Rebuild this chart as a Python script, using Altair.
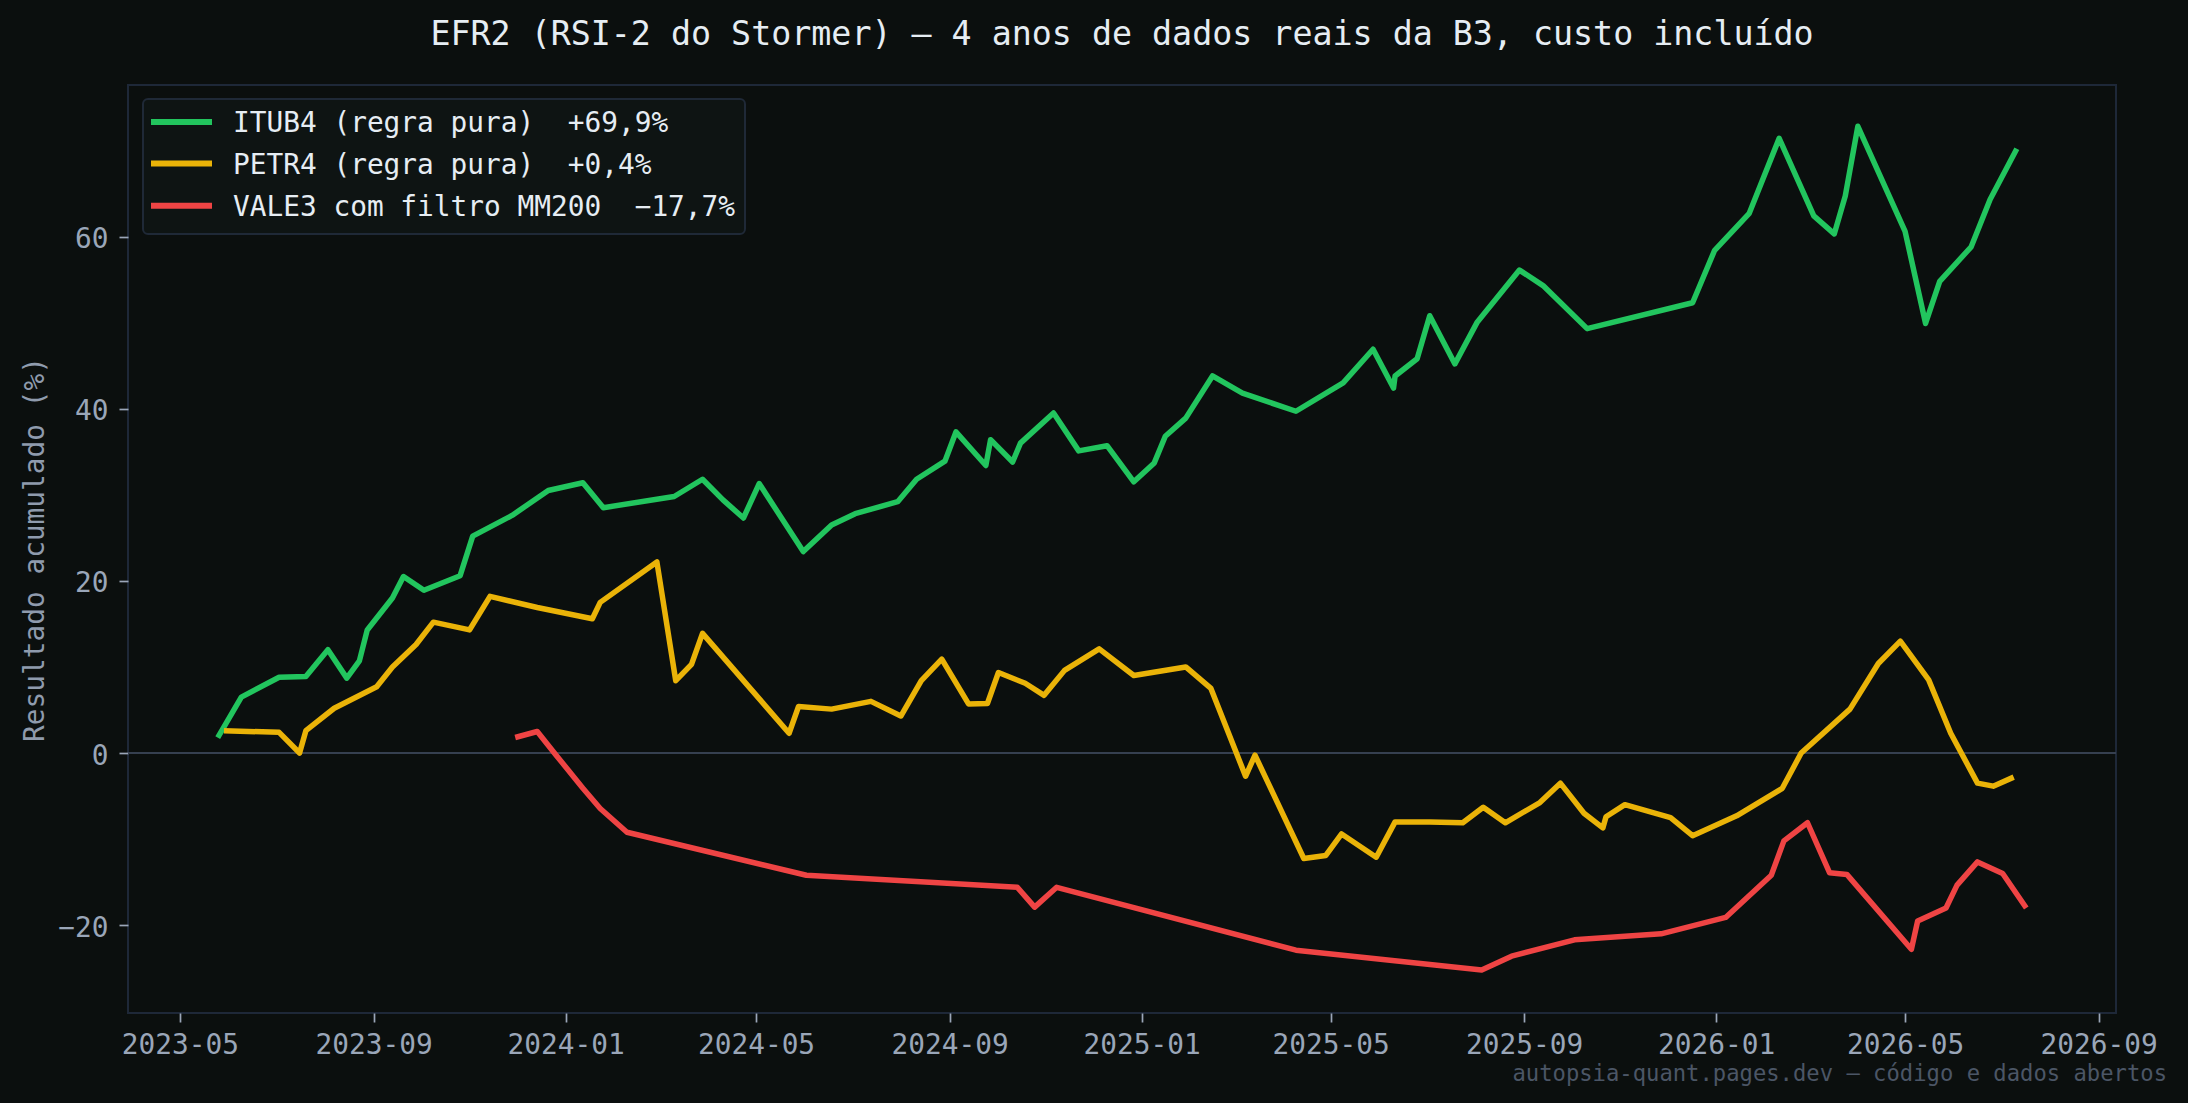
import altair as alt
import pandas as pd

# ---------------- text ----------------
TITLE = "EFR2 (RSI-2 do Stormer) \u2014 4 anos de dados reais da B3, custo inclu\u00eddo"
FOOTER = "autopsia-quant.pages.dev \u2014 c\u00f3digo e dados abertos"
Y_TITLE = "Resultado acumulado (%)"

series_labels = [
    "ITUB4 (regra pura) \u00a0+69,9%",
    "PETR4 (regra pura) \u00a0+0,4%",
    "VALE3 com filtro MM200 \u00a0\u221217,7%",
]
series_colors = ["#22c55e", "#eab308", "#ef4444"]

# ---------------- data ----------------
itub_dates = [
    "2023-05-25", "2023-06-09", "2023-07-03", "2023-07-20", "2023-08-03", "2023-08-15",
    "2023-08-23", "2023-08-28", "2023-09-13", "2023-09-20", "2023-10-03", "2023-10-26",
    "2023-11-03", "2023-11-28", "2023-12-21", "2024-01-12", "2024-01-25", "2024-03-10",
    "2024-03-28", "2024-04-10", "2024-04-23", "2024-05-03", "2024-05-31", "2024-06-18",
    "2024-07-03", "2024-07-30", "2024-08-11", "2024-08-29", "2024-09-05", "2024-09-24",
    "2024-09-27", "2024-10-11", "2024-10-16", "2024-11-06", "2024-11-22", "2024-12-10",
    "2024-12-27", "2025-01-09", "2025-01-16", "2025-01-29", "2025-02-15", "2025-03-06",
    "2025-04-09", "2025-05-09", "2025-05-28", "2025-06-10", "2025-06-11", "2025-06-25",
    "2025-07-03", "2025-07-19", "2025-08-02", "2025-08-29", "2025-09-13", "2025-10-11",
    "2025-12-17", "2025-12-31", "2026-01-22", "2026-02-10", "2026-03-04", "2026-03-17",
    "2026-03-24", "2026-04-01", "2026-05-01", "2026-05-14", "2026-05-23", "2026-06-12",
    "2026-06-24", "2026-07-11",
]
itub_values = [
    1.8, 6.5, 8.8, 8.9, 12.0, 8.7,
    10.7, 14.3, 18.0, 20.5, 18.9, 20.6,
    25.2, 27.6, 30.5, 31.4, 28.5, 29.8,
    31.8, 29.4, 27.3, 31.3, 23.4, 26.5,
    27.8, 29.2, 31.8, 33.9, 37.3, 33.4,
    36.4, 33.8, 36.0, 39.5, 35.1, 35.7,
    31.5, 33.7, 36.8, 38.9, 43.8, 41.8,
    39.7, 43.0, 46.9, 42.4, 43.8, 45.8,
    50.8, 45.2, 50.0, 56.1, 54.3, 49.3,
    52.3, 58.4, 62.7, 71.4, 62.4, 60.3,
    64.7, 72.8, 60.6, 49.9, 54.8, 58.8,
    64.3, 70.2,
]

petr_dates = [
    "2023-05-29", "2023-07-03", "2023-07-16", "2023-07-20", "2023-08-07", "2023-09-03",
    "2023-09-13", "2023-09-28", "2023-10-09", "2023-11-01", "2023-11-14", "2023-12-14",
    "2024-01-18", "2024-01-23", "2024-02-28", "2024-03-11", "2024-03-21", "2024-03-28",
    "2024-05-22", "2024-05-28", "2024-06-18", "2024-07-13", "2024-08-01", "2024-08-14",
    "2024-08-27", "2024-09-13", "2024-09-25", "2024-10-02", "2024-10-19", "2024-10-31",
    "2024-11-13", "2024-12-05", "2024-12-27", "2025-01-29", "2025-02-14", "2025-03-08",
    "2025-03-14", "2025-04-14", "2025-04-28", "2025-05-08", "2025-05-30", "2025-06-11",
    "2025-07-03", "2025-07-24", "2025-08-06", "2025-08-20", "2025-09-11", "2025-09-24",
    "2025-10-09", "2025-10-21", "2025-10-23", "2025-11-04", "2025-12-03", "2025-12-17",
    "2026-01-14", "2026-02-12", "2026-02-24", "2026-03-27", "2026-04-14", "2026-04-28",
    "2026-05-16", "2026-05-30", "2026-06-16", "2026-06-26", "2026-07-09",
]
petr_values = [
    2.6, 2.4, 0.0, 2.6, 5.2, 7.7,
    10.0, 12.6, 15.2, 14.3, 18.2, 16.9,
    15.6, 17.5, 22.2, 8.4, 10.3, 13.9,
    2.3, 5.4, 5.1, 6.0, 4.3, 8.4,
    10.9, 5.7, 5.75, 9.35, 8.1, 6.7,
    9.6, 12.1, 9.0, 10.0, 7.5, -2.7,
    -0.25, -12.25, -11.9, -9.4, -12.1, -8.0,
    -8.0, -8.1, -6.3, -8.1, -5.75, -3.5,
    -7.0, -8.7, -7.4, -6.0, -7.5, -9.6,
    -7.3, -4.1, 0.0, 5.1, 10.4, 13.0,
    8.5, 2.3, -3.5, -3.85, -2.8,
]

vale_dates = [
    "2023-11-30", "2023-12-14", "2023-12-26", "2024-01-12", "2024-01-23", "2024-02-09",
    "2024-06-02", "2024-10-14", "2024-10-25", "2024-11-08", "2025-04-09", "2025-08-05",
    "2025-08-24", "2025-10-03", "2025-11-27", "2026-01-07", "2026-02-05", "2026-02-13",
    "2026-02-28", "2026-03-14", "2026-03-25", "2026-05-05", "2026-05-09", "2026-05-27",
    "2026-06-03", "2026-06-16", "2026-07-02", "2026-07-17",
]
vale_values = [
    1.8, 2.5, -0.25, -4.1, -6.45, -9.2,
    -14.2, -15.6, -17.9, -15.6, -22.9, -25.2,
    -23.6, -21.7, -21.0, -19.1, -14.2, -10.2,
    -8.1, -13.9, -14.1, -22.8, -19.5, -18.0,
    -15.35, -12.65, -14.0, -18.0,
]

x_tick_dates = [
    "2023-05-01", "2023-09-01", "2024-01-01", "2024-05-01", "2024-09-01", "2025-01-01",
    "2025-05-01", "2025-09-01", "2026-01-01", "2026-05-01", "2026-09-01",
]
x_domain = ["2023-03-29", "2026-09-12"]
y_ticks = [-20, 0, 20, 40, 60]
y_domain = [-30.2, 77.6]

# ---------------- build table ----------------
rows = []
for lab, ds, vs in zip(series_labels, [itub_dates, petr_dates, vale_dates],
                       [itub_values, petr_values, vale_values]):
    for d, v in zip(ds, vs):
        rows.append({"date": d, "value": v, "serie": lab})
df = pd.DataFrame(rows)


def dt(s):
    y, m, d = (int(p) for p in s.split("-"))
    return alt.DateTime(year=y, month=m, date=d, utc=True)


MONO = "DejaVu Sans Mono"
BG = "#0b0f0e"
W, H = 1988, 928
LW = 5.5

x_enc = alt.X(
    "date:T",
    scale=alt.Scale(type="utc", domain=[dt(x_domain[0]), dt(x_domain[1])]),
    axis=alt.Axis(
        values=[dt(s) for s in x_tick_dates],
        labelExpr="utcFormat(datum.value, '%Y-%m')",
        title=None, labelFlush=False, labelOverlap=False, labelPadding=9,
    ),
)
y_scale = alt.Scale(domain=y_domain, nice=False, zero=False)
y_axis = alt.Axis(
    values=y_ticks, format="d", title=Y_TITLE, labelPadding=11, labelOffset=3,
    titleX=-93, titleY=H / 2, titleAngle=270, titleAlign="center",
    titleBaseline="middle",
)

zero = alt.Chart(pd.DataFrame({"z": [0]})).mark_rule(
    color="#364050", strokeWidth=2
).encode(y=alt.Y("z:Q", scale=y_scale, axis=y_axis))

lines = alt.Chart(df).mark_line(strokeWidth=LW, strokeJoin="round").encode(
    x=x_enc,
    y=alt.Y("value:Q", scale=y_scale, axis=y_axis),
    color=alt.Color("serie:N", scale=alt.Scale(domain=series_labels, range=series_colors),
                    legend=None),
)

one = pd.DataFrame({"k": [0]})

# legend (box, swatches, labels)
legend_box = alt.Chart(one).mark_rect(
    fill="#0e1413", stroke="#1f2937", strokeWidth=2, cornerRadius=5
).encode(x=alt.value(15), x2=alt.value(617), y=alt.value(14), y2=alt.value(149))

row_y = [37, 78.5, 120.7]
legend_parts = []
for lab, col, ry in zip(series_labels, series_colors, row_y):
    legend_parts.append(
        alt.Chart(one).mark_rule(color=col, strokeWidth=6).encode(
            x=alt.value(23), x2=alt.value(84), y=alt.value(ry)
        )
    )
    legend_parts.append(
        alt.Chart(pd.DataFrame({"t": [lab]})).mark_text(
            font=MONO, fontSize=27.8, color="#e6edf3", align="left", baseline="middle"
        ).encode(x=alt.value(105), y=alt.value(ry + 2), text="t:N")
    )

title_text = alt.Chart(pd.DataFrame({"t": [TITLE]})).mark_text(
    font=MONO, fontSize=33.3, color="#e6edf3", align="center", baseline="middle"
).encode(x=alt.value(W / 2), y=alt.value(-49.6), text="t:N")

footer_text = alt.Chart(pd.DataFrame({"t": [FOOTER]})).mark_text(
    font=MONO, fontSize=22.2, color="#4b5666", align="right", baseline="middle"
).encode(x=alt.value(2039), y=alt.value(989), text="t:N")

chart = alt.layer(
    zero, lines, legend_box, *legend_parts, title_text, footer_text
).properties(
    width=W, height=H,
    padding={"left": 128, "top": 85, "right": 72, "bottom": 90},
    autosize=alt.AutoSizeParams(type="none"),
    background=BG,
).configure_view(
    stroke="#1e2838", strokeWidth=2, fill=BG
).configure_axis(
    labelFont=MONO, labelFontSize=27.8, labelColor="#9aa6b8",
    tickColor="#9aa6b8", tickSize=9, tickWidth=1.7,
    domain=False, grid=False,
    titleFont=MONO, titleFontSize=27.8, titleColor="#8f9bad", titleFontWeight="normal",
)

chart.save("out.html", embed_options={"renderer": "svg", "actions": False})
